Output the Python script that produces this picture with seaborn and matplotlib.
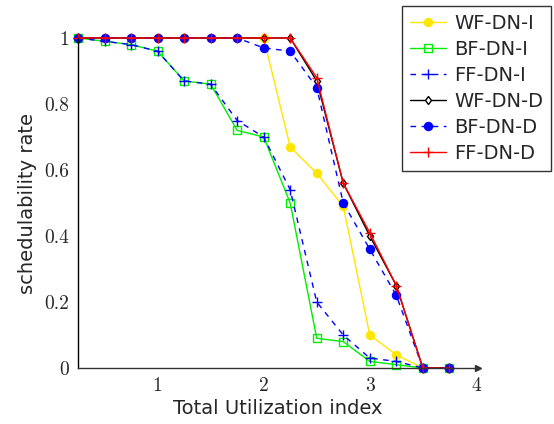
import numpy as np
import matplotlib
matplotlib.use("Agg")
import matplotlib.pyplot as plt
import seaborn as sns

# utilization index values (x axis)
util = [0.25, 0.5, 0.75, 1.0, 1.25, 1.5, 1.75, 2.0, 2.25, 2.5, 2.75, 3.0, 3.25, 3.5, 3.75]

# schedulability rate per strategy
wf_dn_i = [1, 1, 1, 1, 1, 1, 1, 1, 0.67, 0.59, 0.49, 0.10, 0.04, 0, 0]
bf_dn_i = [1, 0.99, 0.98, 0.96, 0.87, 0.86, 0.72, 0.70, 0.50, 0.09, 0.08, 0.02, 0.01, 0, 0]
ff_dn_i = [1, 0.99, 0.98, 0.96, 0.87, 0.86, 0.75, 0.70, 0.54, 0.20, 0.10, 0.03, 0.02, 0, 0]
wf_dn_d = [1, 1, 1, 1, 1, 1, 1, 1, 1, 0.87, 0.56, 0.40, 0.25, 0, 0]
bf_dn_d = [1, 1, 1, 1, 1, 1, 1, 0.97, 0.96, 0.85, 0.50, 0.36, 0.22, 0, 0]
ff_dn_d = [1, 1, 1, 1, 1, 1, 1, 1, 1, 0.88, 0.56, 0.41, 0.25, 0, 0]

y_ticks = [0, 0.2, 0.4, 0.6, 0.8, 1]
y_tick_labels = ["0", "0.2", "0.4", "0.6", "0.8", "1"]
x_ticks = [1, 2, 3, 4]
x_tick_labels = ["1", "2", "3", "4"]

sns.set_style("white")
plt.rcParams["font.family"] = ["DejaVu Sans"]

fig = plt.figure(figsize=(5.54, 4.24), dpi=100)
ax = fig.add_axes([78 / 554, 56 / 424, 400 / 554, 330 / 424])

# (label, values, color, linestyle, marker, marker size, marker face)
series = [
    ("WF-DN-I", wf_dn_i, "#ffe600", "-", "o", 5.8, "#ffe600"),
    ("BF-DN-I", bf_dn_i, "#00ee00", "-", "s", 5.2, "none"),
    ("FF-DN-I", ff_dn_i, "#0000ff", (0, (4, 4)), "+", 6.5, "#0000ff"),
    ("WF-DN-D", wf_dn_d, "black", "-", "d", 4.5, "white"),
    ("BF-DN-D", bf_dn_d, "#0000ff", (0, (4, 4)), "o", 5.8, "#0000ff"),
    ("FF-DN-D", ff_dn_d, "#ff0000", "-", "+", 7, "#ff0000"),
]

for label, vals, color, ls, mk, ms, mfc in series:
    sns.lineplot(x=util, y=vals, ax=ax, color=color, linestyle=ls, marker=mk,
                 markersize=ms, markerfacecolor=mfc, markeredgecolor=color,
                 markeredgewidth=1.0, linewidth=1.0, label=label, clip_on=False,
                 legend=False)

ax.set_xlim(0.25, 4.02)
ax.set_ylim(0, 1.0)

for s in ["top", "right"]:
    ax.spines[s].set_visible(False)
ax.spines["left"].set_color("black")
ax.spines["bottom"].set_color("#333333")
ax.spines["left"].set_linewidth(1.0)
ax.spines["bottom"].set_linewidth(1.0)
# arrow head at the end of the x axis
ax.plot(1, 0, ">", color="#333333", markersize=5, transform=ax.transAxes, clip_on=False)

ax.set_xticks(x_ticks)
ax.set_xticklabels(x_tick_labels, fontfamily="cmr10", fontsize=14)
ax.set_yticks(y_ticks)
ax.set_yticklabels(y_tick_labels, fontfamily="cmr10", fontsize=14)
ax.tick_params(axis="both", direction="inout", length=7, width=0.8, color="#777777", pad=3)

ax.set_xlabel("Total Utilization index", fontsize=14, labelpad=3)
ax.set_ylabel("schedulability rate", fontsize=14, labelpad=5)

handles, labels = ax.get_legend_handles_labels()
leg = fig.legend(handles, labels, loc="upper left", bbox_to_anchor=(402 / 554, 1 - 6 / 424),
                 fontsize=14, frameon=True, fancybox=False, edgecolor="black",
                 handlelength=1.85, handletextpad=0.45, labelspacing=0.36, borderpad=0.4,
                 borderaxespad=0)
leg.get_frame().set_linewidth(1.0)

fig.savefig("out.png", dpi=100)
